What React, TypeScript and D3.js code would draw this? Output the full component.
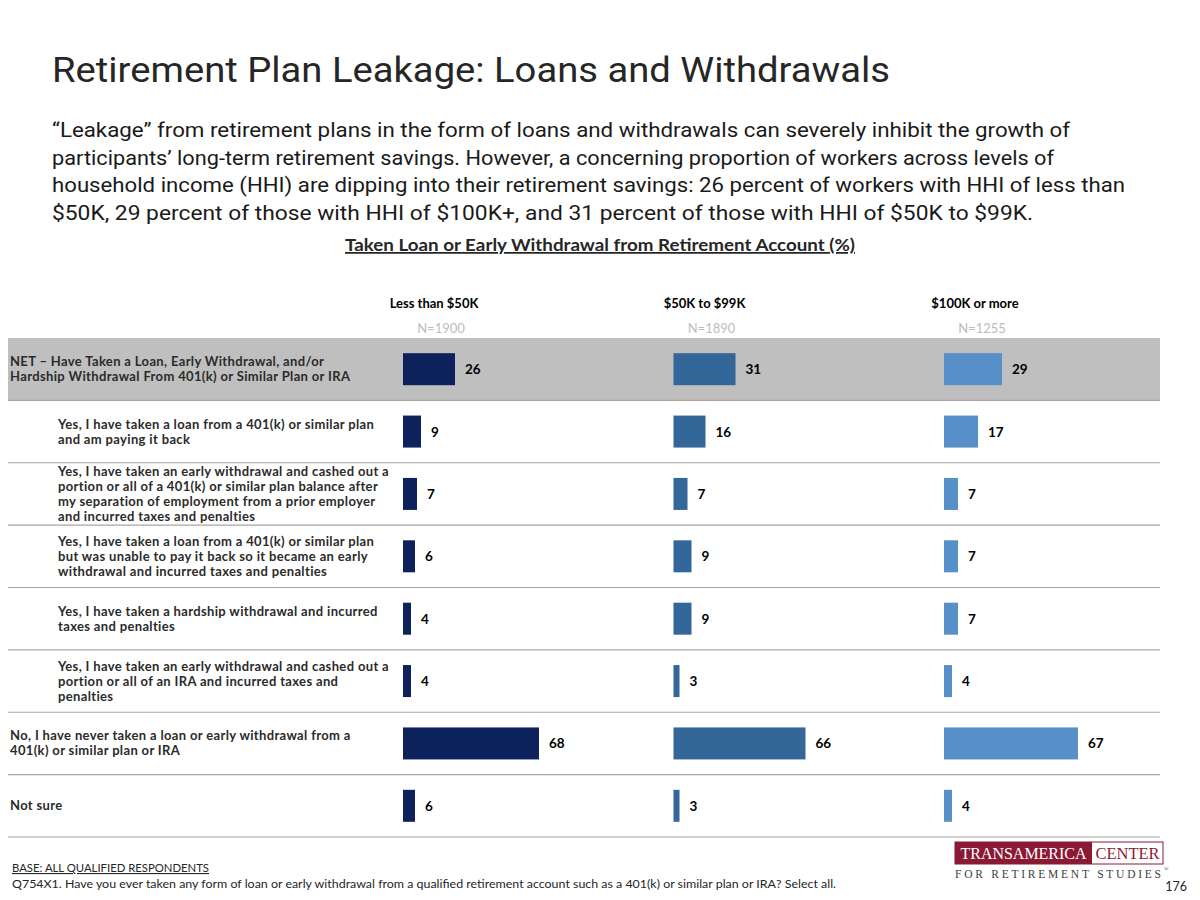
import React from "react";
import * as d3 from "d3";

// income groups
const groups = ["Less than $50K", "$50K to $99K", "$100K or more"];
const groupN = ["N=1900", "N=1890", "N=1255"];
const groupColors = ["#0d215c", "#336699", "#578fc8"];

// row labels, one entry per line
const rowLabels: string[][] = [
  ["NET – Have Taken a Loan, Early Withdrawal, and/or", "Hardship Withdrawal From 401(k) or Similar Plan or IRA"],
  ["Yes, I have taken a loan from a 401(k) or similar plan", "and am paying it back"],
  [
    "Yes, I have taken an early withdrawal and cashed out a",
    "portion or all of a 401(k) or similar plan balance after",
    "my separation of employment from a prior employer",
    "and incurred taxes and penalties",
  ],
  [
    "Yes, I have taken a loan from a 401(k) or similar plan",
    "but was unable to pay it back so it became an early",
    "withdrawal and incurred taxes and penalties",
  ],
  ["Yes, I have taken a hardship withdrawal and incurred", "taxes and penalties"],
  [
    "Yes, I have taken an early withdrawal and cashed out a",
    "portion or all of an IRA and incurred taxes and",
    "penalties",
  ],
  ["No, I have never taken a loan or early withdrawal from a", "401(k) or similar plan or IRA"],
  ["Not sure"],
];
const rowIndented = [false, true, true, true, true, true, false, false];

// values per group (%)
const lessThan50K = [26, 9, 7, 6, 4, 4, 68, 6];
const from50Kto99K = [31, 16, 7, 9, 9, 3, 66, 3];
const over100K = [29, 17, 7, 7, 7, 4, 67, 4];
const seriesValues = [lessThan50K, from50Kto99K, over100K];

const paragraph = [
  "“Leakage” from retirement plans in the form of loans and withdrawals can severely inhibit the growth of",
  "participants’ long-term retirement savings. However, a concerning proportion of workers across levels of",
  "household income (HHI) are dipping into their retirement savings: 26 percent of workers with HHI of less than",
  "$50K, 29 percent of those with HHI of $100K+, and 31 percent of those with HHI of $50K to $99K.",
];
// measured line widths in the slide, px
const paragraphWidths = [1018, 1002, 1073, 981];

const W = 1200;
const H = 900;
const calibri = "Lato, 'Noto Sans', sans-serif";
const serif = "'Liberation Serif', 'DejaVu Serif', serif";

export default function App() {
  const rowIds = rowLabels.map((_, i) => String(i));
  const y = d3.scaleBand<string>().domain(rowIds).range([338, 837]).padding(0);
  const colX = d3.scalePoint<string>().domain(groups).range([403, 944]);
  const x = d3.scaleLinear().domain([0, 100]).range([0, 200]);
  const barH = 32;

  return (
    <svg width={W} height={H} style={{ display: "block", margin: -8 }}>
      <rect width={W} height={H} fill="#fff" />
      <text
        x={52}
        y={82}
        fontFamily="Roboto, sans-serif"
        fontSize={35}
        fill="#262626"
        textLength={838}
        lengthAdjust="spacingAndGlyphs"
      >
        Retirement Plan Leakage: Loans and Withdrawals
      </text>
      {paragraph.map((l, i) => (
        <text
          key={i}
          x={52}
          y={137 + i * 27.5}
          fontFamily="Roboto, sans-serif"
          fontSize={19.5}
          fill="#1a1a1a"
          textLength={paragraphWidths[i]}
          lengthAdjust="spacingAndGlyphs"
        >
          {l}
        </text>
      ))}
      <text
        x={600}
        y={251}
        textAnchor="middle"
        fontFamily={calibri}
        fontWeight={700}
        fontSize={17.5}
        fill="#262626"
        textDecoration="underline"
        textLength={510}
        lengthAdjust="spacingAndGlyphs"
      >
        Taken Loan or Early Withdrawal from Retirement Account (%)
      </text>

      {groups.map((g, gi) => (
        <g key={g}>
          <text
            x={colX(g)! + 31}
            y={308}
            textAnchor="middle"
            fontFamily={calibri}
            fontWeight={700}
            fontSize={13}
            fill="#000"
          >
            {g}
          </text>
          <text x={colX(g)! + 38} y={333} textAnchor="middle" fontFamily={calibri} fontSize={13} fill="#bdbdbd">
            {groupN[gi]}
          </text>
        </g>
      ))}

      {/* NET highlight band */}
      <rect x={5} y={y("0")!} width={1155} height={y.bandwidth()} fill="#bfbfbf" />

      {rowIds.map((id, ri) => {
        const y0 = y(id)!;
        const cy = y0 + y.bandwidth() / 2;
        const lines = rowLabels[ri];
        const lh = 15;
        const top = cy - ((lines.length - 1) * lh) / 2 + 4.5;
        const lx = rowIndented[ri] ? 58 : 10;
        return (
          <g key={id}>
            <line x1={5} x2={1160} y1={y0 + y.bandwidth()} y2={y0 + y.bandwidth()} stroke="#a6a6a6" strokeWidth={1.2} />
            <text fontFamily={calibri} fontWeight={700} fontSize={13} letterSpacing={0.35} fill="#2b2b2b">
              {lines.map((l, li) => (
                <tspan key={li} x={lx} y={top + li * lh}>
                  {l}
                </tspan>
              ))}
            </text>
            {groups.map((g, gi) => {
              const v = seriesValues[gi][ri];
              const bx = colX(g)!;
              return (
                <g key={g}>
                  <rect x={bx} y={cy - barH / 2} width={x(v)} height={barH} fill={groupColors[gi]} />
                  <text
                    x={bx + x(v) + 10}
                    y={cy + 5}
                    fontFamily={calibri}
                    fontWeight={700}
                    fontSize={13.5}
                    fill="#000"
                  >
                    {v}
                  </text>
                </g>
              );
            })}
          </g>
        );
      })}

      {/* footer */}
      <text
        x={12}
        y={872}
        fontFamily={calibri}
        fontSize={11}
        fill="#262626"
        textDecoration="underline"
        textLength={197}
        lengthAdjust="spacingAndGlyphs"
      >
        BASE: ALL QUALIFIED RESPONDENTS
      </text>
      <text
        x={12}
        y={888}
        fontFamily={calibri}
        fontSize={11}
        fill="#262626"
        textLength={824}
        lengthAdjust="spacingAndGlyphs"
      >
        Q754X1. Have you ever taken any form of loan or early withdrawal from a qualified retirement account such as a 401(k) or similar plan or IRA? Select all.
      </text>
      <text x={1187} y={891} textAnchor="end" fontFamily={calibri} fontSize={12.5} fill="#262626">
        176
      </text>

      {/* logo */}
      <rect x={955} y={842} width={208} height={22} fill="#fff" stroke="#8a1a33" strokeWidth={1} />
      <rect x={955} y={842} width={137} height={22} fill="#8a1a33" />
      <text
        x={1023.5}
        y={859}
        textAnchor="middle"
        fontFamily={serif}
        fontSize={17}
        fill="#fff"
        textLength={126}
        lengthAdjust="spacingAndGlyphs"
      >
        TRANSAMERICA
      </text>
      <text
        x={1127.5}
        y={859}
        textAnchor="middle"
        fontFamily={serif}
        fontSize={17}
        fill="#8a1a33"
        textLength={64}
        lengthAdjust="spacingAndGlyphs"
      >
        CENTER
      </text>
      <text x={955} y={878} fontFamily={serif} fontSize={11.5} fill="#404040" textLength={206} lengthAdjust="spacing">
        FOR RETIREMENT STUDIES
      </text>
      <text x={1164} y={871} fontFamily={serif} fontSize={6} fill="#404040">
        ®
      </text>
    </svg>
  );
}
